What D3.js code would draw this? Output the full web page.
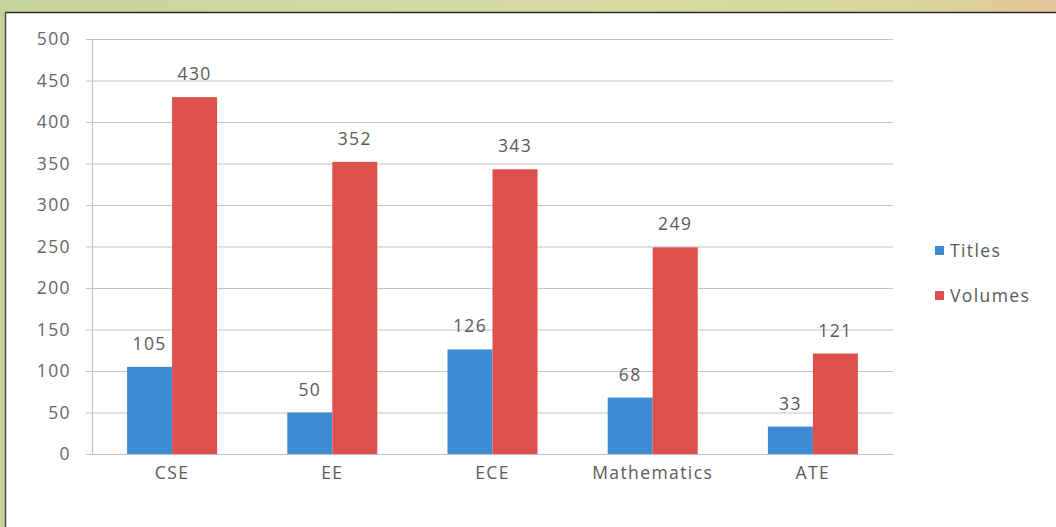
<!DOCTYPE html>
<html><head><meta charset="utf-8">
<script src="https://cdn.jsdelivr.net/npm/d3@7/dist/d3.min.js"></script>
<style>html,body{margin:0;padding:0;overflow:hidden;background:#fff}</style>
</head><body>
<svg id="c" width="1056" height="527"></svg>
<script>
const categories = ["CSE", "EE", "ECE", "Mathematics", "ATE"];
const seriesNames = ["Titles", "Volumes"];
const titles = [105, 50, 126, 68, 33];
const volumes = [430, 352, 343, 249, 121];
const yTicks = [0, 50, 100, 150, 200, 250, 300, 350, 400, 450, 500];
const colors = ["#3f8bd3", "#dd504b"];
const FONT = "'Open Sans', sans-serif";

const svg = d3.select("#c");
const defs = svg.append("defs");
const g1 = defs.append("linearGradient").attr("id","bg").attr("x1","0").attr("x2","1").attr("y1","0").attr("y2","0");
g1.append("stop").attr("offset","0").attr("stop-color","#c7d39c");
g1.append("stop").attr("offset","0.3").attr("stop-color","#cfd89f");
g1.append("stop").attr("offset","0.6").attr("stop-color","#d6dba2");
g1.append("stop").attr("offset","0.85").attr("stop-color","#d5d69a");
g1.append("stop").attr("offset","1").attr("stop-color","#e6c59a");
svg.append("rect").attr("width",1056).attr("height",527).attr("fill","url(#bg)");
svg.append("rect").attr("x",5).attr("y",12).attr("width",1051).attr("height",515).attr("fill","#fff");
svg.append("line").attr("x1",5).attr("x2",1056).attr("y1",12.5).attr("y2",12.5).attr("stroke","#2b2b2b").attr("stroke-width",1.5);
svg.append("line").attr("x1",5.5).attr("x2",5.5).attr("y1",12).attr("y2",527).attr("stroke","#4a4a4a").attr("stroke-width",1.5);

const mLeft = 92, mRight = 893, mTop = 39, mBottom = 454;
const y = d3.scaleLinear().domain([0, 500]).range([mBottom, mTop]);
const x0 = d3.scaleBand().domain(categories).range([mLeft, mRight]).padding(0);
const x1 = d3.scaleBand().domain(seriesNames).range([0, x0.bandwidth()]).paddingInner(0).paddingOuter(0.78);

function styleText(sel, fill) {
  sel.attr("font-family", FONT).attr("font-size", 17.5).attr("letter-spacing", "1.4px").attr("fill", fill || "#5a5a5a");
}

// gridlines
svg.append("g").selectAll("line").data(yTicks).join("line")
  .attr("x1", mLeft - 6).attr("x2", mRight).attr("y1", d => y(d) + 0.5).attr("y2", d => y(d) + 0.5)
  .attr("stroke", "#c4c4c4").attr("stroke-width", 1.2);

// y axis
const yAxis = svg.append("g").attr("transform", `translate(${mLeft},0)`)
  .call(d3.axisLeft(y).tickValues(yTicks).tickSize(0).tickPadding(21));
yAxis.select(".domain").attr("stroke", "#c4c4c4").attr("stroke-width", 1.2);
yAxis.selectAll("text").call(styleText, "#666");

// x axis
const xAxis = svg.append("g").attr("transform", `translate(0,${mBottom})`)
  .call(d3.axisBottom(x0).tickSize(0).tickPadding(13));
xAxis.select(".domain").remove();
xAxis.selectAll("text").call(styleText);

const data = categories.map((c, i) => ({ cat: c, vals: [titles[i], volumes[i]] }));
const groups = svg.append("g").selectAll("g").data(data).join("g")
  .attr("transform", d => `translate(${x0(d.cat)},0)`);
groups.selectAll("rect").data(d => d.vals.map((v, j) => ({ s: seriesNames[j], v, j }))).join("rect")
  .attr("x", d => x1(d.s)).attr("width", x1.bandwidth())
  .attr("y", d => y(d.v)).attr("height", d => y(0) - y(d.v))
  .attr("fill", d => colors[d.j]);
groups.selectAll("text").data(d => d.vals.map((v, j) => ({ s: seriesNames[j], v, j }))).join("text")
  .attr("x", d => x1(d.s) + x1.bandwidth() / 2).attr("y", d => y(d.v) - 17)
  .attr("text-anchor", "middle").call(styleText)
  .text(d => d.v);

// legend
const leg = svg.append("g").selectAll("g").data(seriesNames).join("g")
  .attr("transform", (d, i) => `translate(935,${251 + i * 45})`);
leg.append("rect").attr("x", 0).attr("y", -5).attr("width", 9).attr("height", 9).attr("fill", (d, i) => colors[i]);
leg.append("text").attr("x", 15).attr("y", 6).call(styleText).text(d => d);
</script>
</body></html>
